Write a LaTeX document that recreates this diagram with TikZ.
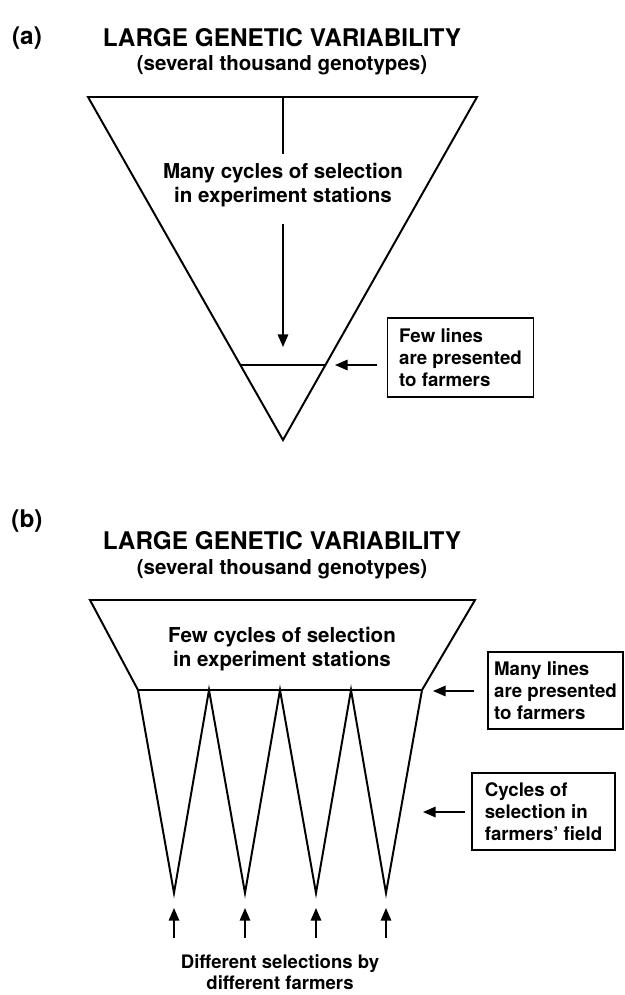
\documentclass[tikz,border=0pt]{standalone}
\usepackage{fontspec}
\setmainfont{TeX Gyre Heros}
\usetikzlibrary{arrows.meta}

\tikzset{
  shape line/.style={line width=1.4pt, line join=miter},
  pointer/.style={line width=1.1pt, -{Triangle[length=9pt,width=7.5pt]}},
  heading/.style={font=\fontsize{17.3}{20}\selectfont\bfseries, inner sep=0pt},
  subheading/.style={font=\fontsize{14.6}{17}\selectfont\bfseries, inner sep=0pt},
  inside/.style={font=\fontsize{14.6}{17}\selectfont\bfseries, align=center, inner sep=0pt},
  notebox/.style={draw, line width=1.2pt, font=\fontsize{13.3}{15.6}\selectfont\bfseries, align=left, inner sep=0pt},
  footnote text/.style={font=\fontsize{13.2}{15}\selectfont\bfseries, align=center, inner sep=0pt}
}

\begin{document}
\begin{tikzpicture}[x=0.025cm,y=-0.025cm]
\useasboundingbox (0,0) rectangle (625,995);

% (a) selection in experiment stations only
\node[heading] (labA) at (27,38) {(a)};
\node[heading] (titleA) at (282,38) {LARGE GENETIC VARIABILITY};
\node[subheading] (subA) at (282,65) {(several thousand genotypes)};
\draw[shape line] (88,97) -- (477,97) -- (283,440) -- cycle;
\coordinate (topA) at (283,97);
\node[inside] (manyA) at (283,185) {Many cycles of selection\\in experiment stations};
\draw[shape line] (topA) -- ([yshift=0.21cm]manyA.north);
\coordinate (cutA) at (283,347);
\draw[pointer] ([yshift=-0.41cm]manyA.south) -- (cutA);
\draw[shape line] (240.4,365) -- (325.6,365); % lines kept
\node[notebox, minimum width=3.65cm, minimum height=1.975cm] (fewA) at (460.5,357.5) {Few lines\\are presented\\to farmers};
\coordinate (fewtail) at (377,365);
\coordinate (fewtip) at (335,365);
\draw[pointer] (fewtail) -- (fewtip);

% (b) selection continued in farmers' fields
\node[heading] (labB) at (27,521) {(b)};
\node[heading] (titleB) at (282,541) {LARGE GENETIC VARIABILITY};
\node[subheading] (subB) at (282,569) {(several thousand genotypes)};
\draw[shape line] (90,600) -- (475,600) -- (422,690) -- (138,690) -- cycle;
\node[inside] (fewB) at (282,649) {Few cycles of selection\\in experiment stations};
\draw[shape line] (138,690) -- (174,893) -- (209,690) -- (245,893) -- (280,690)
  -- (316,893) -- (351,690) -- (386,893) -- (422,690);
\node[notebox, minimum width=3.375cm, minimum height=1.925cm] (manyB) at (555.5,690.5) {Many lines\\are presented\\to farmers};
\coordinate (manytail) at (474,691);
\coordinate (manytip) at (433,691);
\draw[pointer] (manytail) -- (manytip);
\node[notebox, minimum width=3.575cm, minimum height=1.925cm] (cyclesB) at (543.5,811.5) {Cycles of\\selection in\\farmers' field};
\coordinate (cycletail) at (465,812);
\coordinate (cycletip) at (423,812);
\draw[pointer] (cycletail) -- (cycletip);
\foreach \x [count=\i] in {174,245,316,386}{
  \coordinate (foot\i) at (\x,938);
  \coordinate (up\i) at (\x,908);
  \draw[pointer] (foot\i) -- (up\i);
}
\node[footnote text] (diffB) at (280,972) {Different selections by\\different farmers};
\end{tikzpicture}
\end{document}
